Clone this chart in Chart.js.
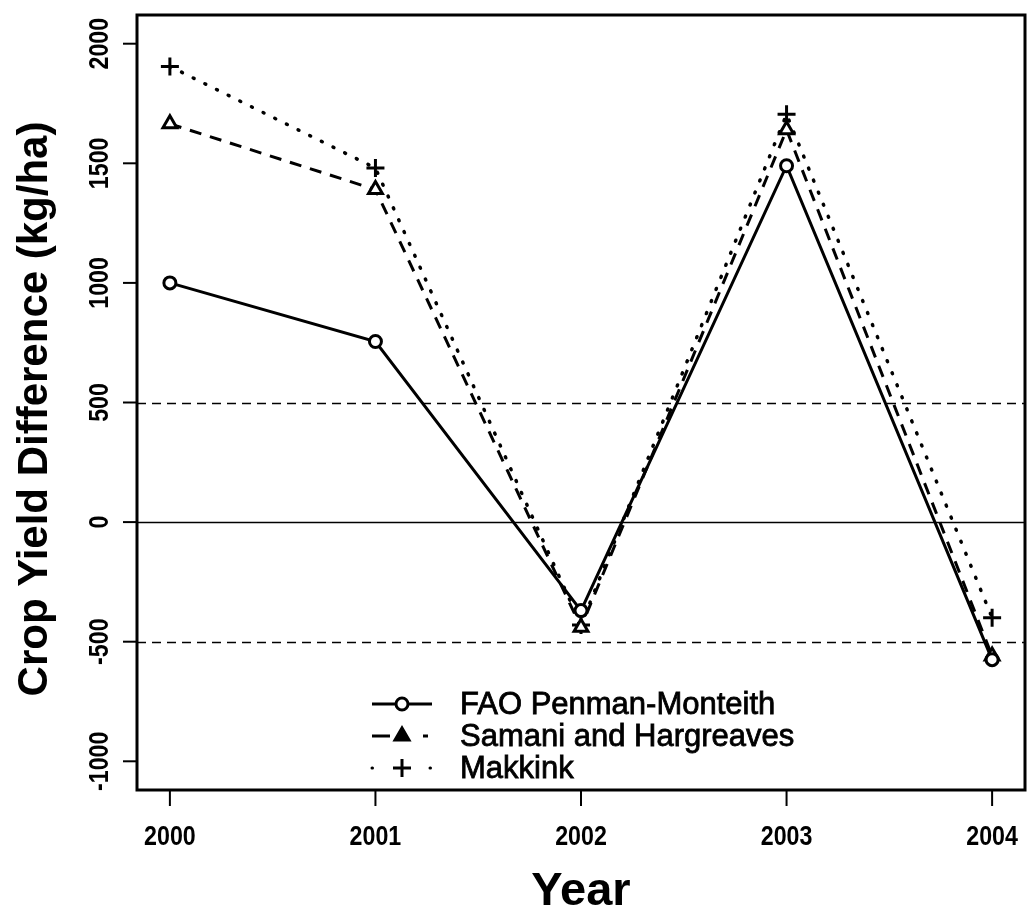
<!DOCTYPE html>
<html>
<head>
<meta charset="utf-8">
<script src="https://cdn.jsdelivr.net/npm/chart.js@4/dist/chart.umd.min.js"></script>
<style>
  html, body { margin: 0; padding: 0; background: #fff; }
  canvas { display: block; }
</style>
</head>
<body>
<canvas id="chart" width="1029" height="919"></canvas>
<script>
// Values
const years = [2000, 2001, 2002, 2003, 2004];
const fao = [1000, 755, -370, 1490, -575];
const samani = [1665, 1390, -440, 1640, -560];
const makkink = [1905, 1480, -430, 1705, -400];
const yTicks = [-1000, -500, 0, 500, 1000, 1500, 2000];
const refLines = [-500, 0, 500];
const seriesNames = ['FAO Penman-Monteith', 'Samani and Hargreaves', 'Makkink'];

const pts = vals => vals.map((v, i) => ({x: years[i], y: v}));

// Reference lines at +-500 (dashed) and 0 (solid)
const refPlugin = {
  id: 'refLines',
  beforeDatasetsDraw(chart) {
    const ctx = chart.ctx, a = chart.chartArea, y = chart.scales.y;
    ctx.save();
    ctx.strokeStyle = '#000';
    ctx.lineWidth = 1.6;
    refLines.forEach(v => {
      const py = Math.round(y.getPixelForValue(v)) + 0.5;
      ctx.setLineDash(v === 0 ? [] : [9, 6]);
      ctx.beginPath();
      ctx.moveTo(a.left, py);
      ctx.lineTo(a.right, py);
      ctx.stroke();
    });
    ctx.restore();
  }
};

// legend line samples (R style: short pieces around the symbol)
const legendDash = [[], [18, 33, 5, 40], [0.5, 57.5]];

// condensed bold label, like the figure's tick numbers
function tickText(ctx, txt, x, y, rot) {
  ctx.save();
  ctx.translate(x, y);
  if (rot) ctx.rotate(-Math.PI / 2);
  ctx.scale(0.86, 1);
  ctx.fillText(txt, 0, 0);
  ctx.restore();
}

// Box, ticks, labels, titles and legend drawn in R style
const frame = {
  id: 'frame',
  afterDraw(chart) {
    const ctx = chart.ctx, a = chart.chartArea;
    const xs = chart.scales.x, ys = chart.scales.y;
    ctx.save();
    ctx.strokeStyle = '#000';
    ctx.fillStyle = '#000';
    ctx.setLineDash([]);
    ctx.lineWidth = 3;
    ctx.strokeRect(a.left, a.top, a.right - a.left, a.bottom - a.top);

    ctx.lineWidth = 2;
    ctx.font = 'bold 27px "Liberation Sans", Arial, sans-serif';
    ctx.textAlign = 'center';
    ctx.textBaseline = 'middle';
    years.forEach(v => {
      const px = xs.getPixelForValue(v);
      ctx.beginPath();
      ctx.moveTo(px, a.bottom);
      ctx.lineTo(px, a.bottom + 16);
      ctx.stroke();
      tickText(ctx, String(v), px, 838, false);
    });
    yTicks.forEach(v => {
      const py = ys.getPixelForValue(v);
      ctx.beginPath();
      ctx.moveTo(a.left, py);
      ctx.lineTo(a.left - 14, py);
      ctx.stroke();
      tickText(ctx, String(v), 101, py, true);
    });

    ctx.font = 'bold 47px "Liberation Sans", Arial, sans-serif';
    ctx.fillText('Year', (a.left + a.right) / 2, 892);
    ctx.font = 'bold 42px "Liberation Sans", Arial, sans-serif';
    ctx.save();
    ctx.translate(35, 409);
    ctx.rotate(-Math.PI / 2);
    ctx.fillText('Crop Yield Difference (kg/ha)', 0, 0);
    ctx.restore();

    // legend
    const rowY = [704, 736, 768];
    ctx.font = '31px "Liberation Sans", Arial, sans-serif';
    ctx.textAlign = 'left';
    chart.data.datasets.forEach((ds, i) => {
      const y = rowY[i];
      ctx.lineWidth = 3;
      ctx.setLineDash(legendDash[i]);
      ctx.lineCap = i === 2 ? 'round' : 'butt';
      ctx.beginPath();
      ctx.moveTo(372, y);
      ctx.lineTo(432, y);
      ctx.stroke();
      ctx.setLineDash([]);
      ctx.lineCap = 'butt';
      ctx.fillStyle = '#fff';
      ctx.beginPath();
      const r = ds.pointRadius;
      if (ds.pointStyle === 'circle') {
        ctx.arc(402, y, r, 0, Math.PI * 2);
        ctx.fill();
        ctx.stroke();
      } else if (ds.pointStyle === 'triangle') {
        ctx.moveTo(402, y - r);
        ctx.lineTo(402 + r * 0.87, y + r * 0.5);
        ctx.lineTo(402 - r * 0.87, y + r * 0.5);
        ctx.closePath();
        ctx.fillStyle = '#000';
        ctx.fill();
        ctx.stroke();
      } else {
        ctx.moveTo(402 - r, y);
        ctx.lineTo(402 + r, y);
        ctx.moveTo(402, y - r);
        ctx.lineTo(402, y + r);
        ctx.stroke();
      }
      ctx.fillStyle = '#000';
      ctx.lineWidth = 0.8;
      ctx.fillText(seriesNames[i], 460, y + 1);
      ctx.strokeText(seriesNames[i], 460, y + 1);
    });
    ctx.restore();
  }
};

new Chart(document.getElementById('chart').getContext('2d'), {
  type: 'line',
  data: {
    datasets: [
      {
        label: seriesNames[0], data: pts(fao),
        borderColor: '#000', borderWidth: 3,
        pointStyle: 'circle', pointRadius: 6, pointBorderWidth: 3,
        pointBackgroundColor: '#fff', pointBorderColor: '#000'
      },
      {
        label: seriesNames[1], data: pts(samani),
        borderColor: '#000', borderWidth: 3, borderDash: [12, 9],
        pointStyle: 'triangle', pointRadius: 8, pointBorderWidth: 3,
        pointBackgroundColor: '#fff', pointBorderColor: '#000'
      },
      {
        label: seriesNames[2], data: pts(makkink),
        borderColor: '#000', borderWidth: 3.5, borderDash: [1, 12], borderCapStyle: 'round',
        pointStyle: 'cross', pointRadius: 9, pointBorderWidth: 3,
        pointBackgroundColor: '#fff', pointBorderColor: '#000'
      }
    ]
  },
  options: {
    responsive: false,
    animation: false,
    layout: { autoPadding: false, padding: { left: 137, top: 15, right: 4, bottom: 129 } },
    plugins: { legend: { display: false }, tooltip: { enabled: false } },
    scales: {
      x: { type: 'linear', min: 1999.84, max: 2004.16, display: false },
      y: { type: 'linear', min: -1120, max: 2120, display: false }
    }
  },
  plugins: [refPlugin, frame]
});
</script>
</body>
</html>
